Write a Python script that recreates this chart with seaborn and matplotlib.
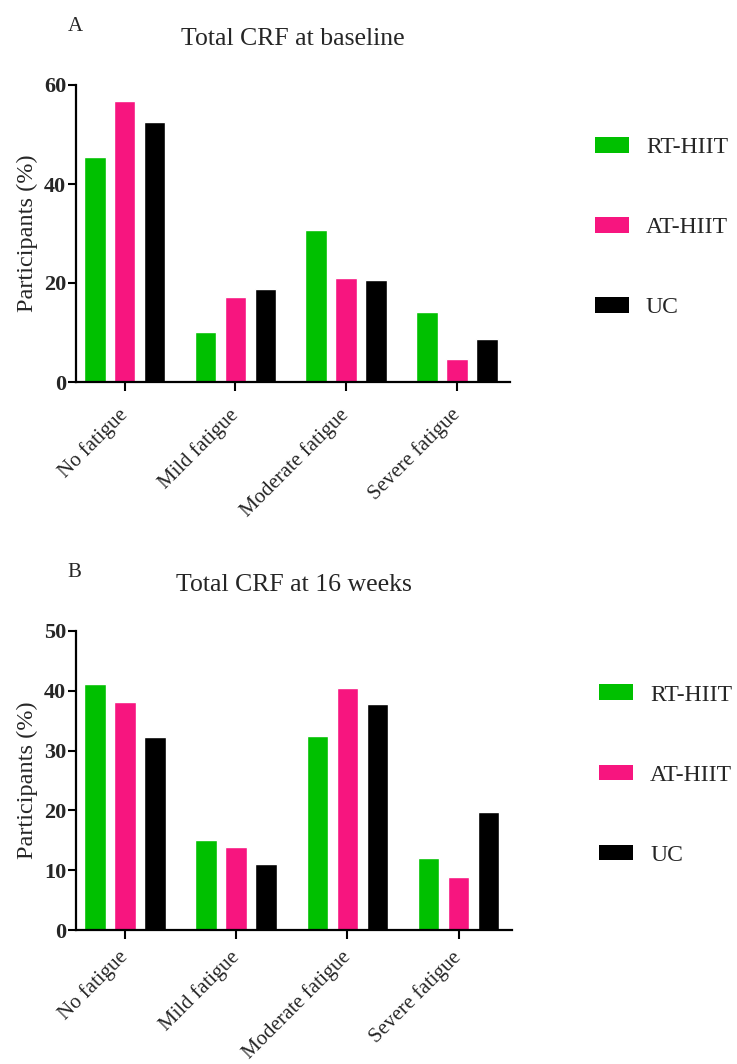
import matplotlib
matplotlib.use("Agg")
import matplotlib.pyplot as plt
import seaborn as sns
import pandas as pd
from matplotlib.patches import Patch

categories = ["No fatigue", "Mild fatigue", "Moderate fatigue", "Severe fatigue"]
groups = ["RT-HIIT", "AT-HIIT", "UC"]

# Participants (%) per fatigue category
baseline_rt = [45.4, 10.2, 30.8, 14.2]
baseline_at = [56.8, 17.1, 21.1, 4.6]
baseline_uc = [52.6, 18.7, 20.7, 8.6]

week16_rt = [41.2, 15.1, 32.5, 12.1]
week16_at = [38.2, 13.8, 40.5, 8.8]
week16_uc = [32.2, 11.1, 37.8, 19.8]

colors = ["#00C000", "#F7157F", "#000000"]

sns.set_theme(style="white")
plt.rcParams["font.family"] = ["Liberation Serif", "DejaVu Serif"]


def long_frame(rt, at, uc):
    rows = []
    for g, vals in zip(groups, [rt, at, uc]):
        for c, v in zip(categories, vals):
            rows.append({"Category": c, "Group": g, "Value": v})
    return pd.DataFrame(rows)


fig = plt.figure(figsize=(7.37, 10.64), dpi=100)
W, H = 737, 1064


def add_axes_px(left, top, right, bottom):
    return fig.add_axes([left / W, 1 - bottom / H, (right - left) / W, (bottom - top) / H])


def draw_panel(ax, df, ymax, yticks, title, letter, legend_x, legend_y, label_pad):
    sns.barplot(data=df, x="Category", y="Value", hue="Group", order=categories,
                hue_order=groups, palette=colors, width=0.81, gap=0.28,
                saturation=1, errorbar=None, ax=ax, legend=False)
    ax.set_ylim(0, ymax)
    ax.set_xlim(-0.44, 3.48)
    ax.set_yticks(yticks)
    ax.set_yticklabels([str(t) for t in yticks], fontsize=16, fontweight="bold")
    ax.set_xticks(range(len(categories)))
    ax.set_xticklabels(categories, rotation=45, ha="right", va="center",
                       rotation_mode="anchor", fontsize=15)
    ax.set_xlabel("")
    ax.set_ylabel("Participants (%)", fontsize=17.5, labelpad=4)
    for s in ["top", "right"]:
        ax.spines[s].set_visible(False)
    for s in ["left", "bottom"]:
        ax.spines[s].set_color("black")
        ax.spines[s].set_linewidth(1.6)
    ax.tick_params(axis="y", left=True, length=6, width=1.5, color="black", pad=1)
    ax.tick_params(axis="x", bottom=True, length=6.5, width=1.5, color="black",
                   pad=label_pad)
    ax.set_title(title, fontsize=18.5, pad=29)
    ax.text(-0.02, 1.165, letter, transform=ax.transAxes, fontsize=15,
            va="bottom", ha="left")
    handles = [Patch(facecolor=c, edgecolor="none") for c in colors]
    ax.legend(handles, groups, loc="upper left", bbox_to_anchor=(legend_x, legend_y),
              frameon=False, fontsize=17, handlelength=1.44, handleheight=0.64,
              labelspacing=2.5, handletextpad=0.72, borderaxespad=0)


ax_a = add_axes_px(76, 85, 510, 382)
draw_panel(ax_a, long_frame(baseline_rt, baseline_at, baseline_uc), 60, [0, 20, 40, 60],
           "Total CRF at baseline", "A", 1.174, 0.857, 15)

ax_b = add_axes_px(76, 631, 512, 930)
draw_panel(ax_b, long_frame(week16_rt, week16_at, week16_uc), 50, [0, 10, 20, 30, 40, 50],
           "Total CRF at 16 weeks", "B", 1.178, 0.853, 11)

fig.savefig("out.png", dpi=100)
